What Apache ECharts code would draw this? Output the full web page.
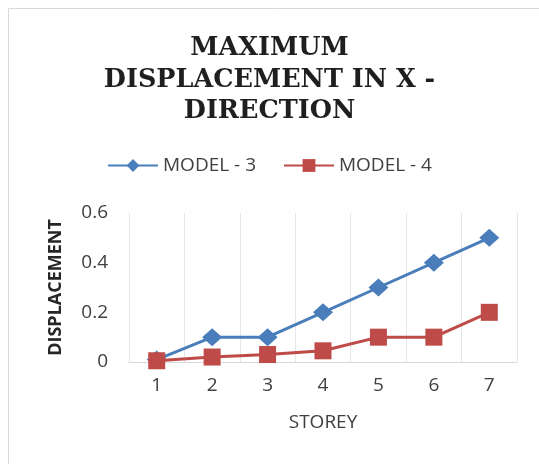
<!DOCTYPE html>
<html><head><meta charset="utf-8">
<script src="https://cdn.jsdelivr.net/npm/echarts@6/dist/echarts.min.js"></script>
<style>html,body{margin:0;padding:0;background:#fff}#c{width:539px;height:464px}</style>
</head><body><div id="c"></div>
<script>
var storeys = ['1','2','3','4','5','6','7'];
var model3 = [0.01, 0.1, 0.1, 0.2, 0.3, 0.4, 0.5];
var model4 = [0.005, 0.02, 0.03, 0.045, 0.1, 0.1, 0.2];
var yTicks = [0, 0.2, 0.4, 0.6];
var chart = echarts.init(document.getElementById('c'));
chart.setOption({
  animation: false,
  graphic: [{type:'rect', shape:{x:8.5,y:8.5,width:560,height:500}, style:{fill:'none', stroke:'#d9d9d9', lineWidth:1}, silent:true}],
  title: {
    text: 'MAXIMUM\nDISPLACEMENT IN X -\nDIRECTION',
    left: 'center', top: 28,
    textStyle: {fontFamily:'DejaVu Serif', fontWeight:'bold', fontSize:25.5, lineHeight:31.5, color:'#1f1f1f'}
  },
  legend: {
    top: 151, left: 'center', itemWidth: 50, itemHeight: 16, itemGap: 27,
    textStyle: {fontFamily:'Open Sans', fontSize:19, color:'#404040'},
    data: ['MODEL - 3','MODEL - 4']
  },
  grid: {left:129, right:22, top:213, bottom:102},
  xAxis: {
    type:'category', data: storeys, boundaryGap:true,
    name:'STOREY', nameLocation:'middle', nameGap:51,
    nameTextStyle:{fontFamily:'Open Sans', fontSize:19, color:'#404040'},
    axisLine:{lineStyle:{color:'#d9d9d9', width:1}},
    axisTick:{show:false},
    axisLabel:{fontFamily:'Open Sans', fontSize:19, color:'#404040', margin:14},
    splitLine:{show:true, lineStyle:{color:'#e6e6e6', width:1}}
  },
  yAxis: {
    type:'value', min:yTicks[0], max:yTicks[yTicks.length-1], interval:0.2,
    name:'DISPLACEMENT', nameLocation:'middle', nameGap:64,
    nameTextStyle:{fontFamily:'Open Sans', fontWeight:'bold', fontSize:18, color:'#262626'},
    axisLine:{show:false}, axisTick:{show:false},
    axisLabel:{fontFamily:'Open Sans', fontSize:19, color:'#404040', margin:21},
    splitLine:{show:false}
  },
  series: [
    {name:'MODEL - 3', type:'line', data:model3, symbol:'diamond', symbolSize:[20,18],
     itemStyle:{color:'#4A7EBB'}, lineStyle:{color:'#4A7EBB', width:3}, z:2},
    {name:'MODEL - 4', type:'line', data:model4, symbol:'rect', symbolSize:17,
     itemStyle:{color:'#BE4B48'}, lineStyle:{color:'#BE4B48', width:3}, z:3}
  ]
});
</script></body></html>
